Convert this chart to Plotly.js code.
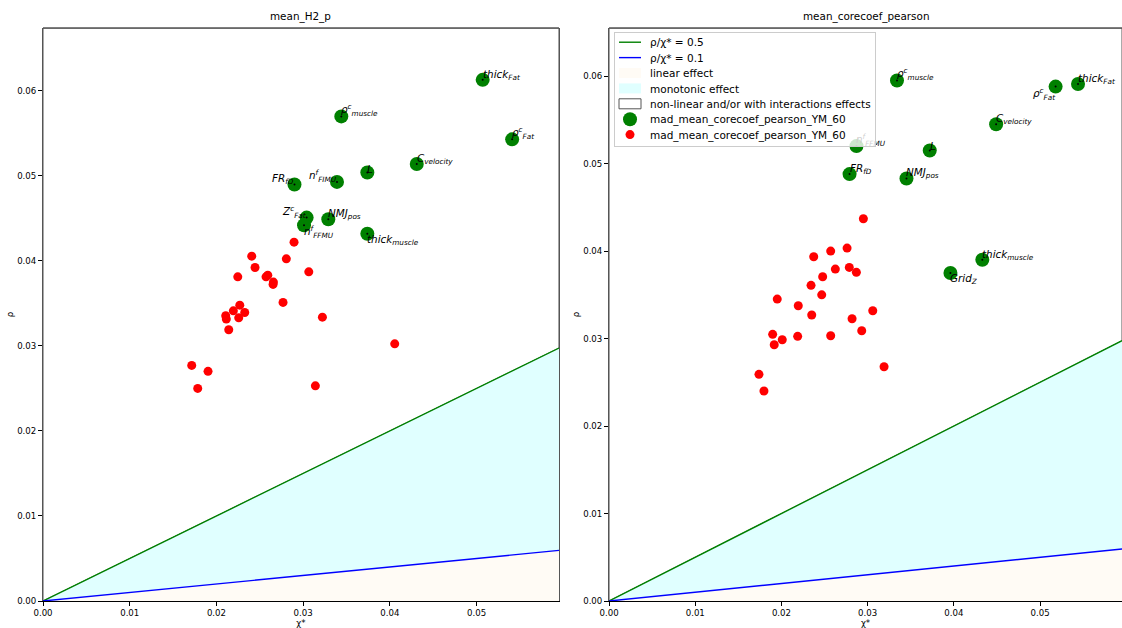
<!DOCTYPE html>
<html>
<head>
<meta charset="utf-8">
<script src="https://cdn.plot.ly/plotly-3.0.1.min.js"></script>
<style>html,body{margin:0;padding:0;background:#fff;}#chart{width:1122px;height:628px;}</style>
</head>
<body>
<div id="chart"></div>
<script>
// ---------- data ----------
const ratios = [0.5, 0.1];            // rho / chi* reference lines
const xMax = 0.0595;
const yMaxLeft = 0.0674;
const yMaxRight = 0.0655;
const xTicks = [0, 0.01, 0.02, 0.03, 0.04, 0.05];
const yTicks = [0, 0.01, 0.02, 0.03, 0.04, 0.05, 0.06];

const leftTitle = "mean_H2_p";
const rightTitle = "mean_corecoef_pearson";
const seriesName = "mad_mean_corecoef_pearson_YM_60";

const leftGreenLabels = [
  "<i>thick</i><sub><i>Fat</i></sub>",
  "<i>ρ</i><sup><i>c</i></sup><sub><i>muscle</i></sub>",
  "<i>ρ</i><sup><i>c</i></sup><sub><i>Fat</i></sub>",
  "<i>C</i><sub><i>velocity</i></sub>",
  "<i>L</i>",
  "<i>n</i><sup><i>f</i></sup><sub><i>FIMU</i></sub>",
  "<i>FR</i><sub><i>fD</i></sub>",
  "<i>Z</i><sup><i>c</i></sup><sub><i>Fat</i></sub>",
  "<i>n</i><sup><i>f</i></sup><sub><i>FFMU</i></sub>",
  "<i>NMJ</i><sub><i>pos</i></sub>",
  "<i>thick</i><sub><i>muscle</i></sub>"
];
const leftGreenX = [0.0507, 0.0344, 0.0541, 0.0431, 0.0374, 0.0339, 0.0290, 0.0304, 0.0301, 0.0329, 0.0374];
const leftGreenY = [0.0613, 0.0570, 0.0543, 0.0514, 0.0504, 0.0493, 0.0490, 0.0451, 0.0442, 0.0449, 0.0432];

const leftRedX = [0.02895, 0.02407, 0.02806, 0.02445, 0.02246, 0.03065, 0.02572, 0.02592, 0.02657, 0.02653,
                  0.02768, 0.02269, 0.02195, 0.02326, 0.02107, 0.02114, 0.02257, 0.03222, 0.02142, 0.04056,
                  0.01715, 0.01903, 0.01784, 0.03141];
const leftRedY = [0.04221, 0.04056, 0.04025, 0.03923, 0.03813, 0.03872, 0.03813, 0.03833, 0.03751, 0.03724,
                  0.03512, 0.03480, 0.03413, 0.03394, 0.03355, 0.03316, 0.03331, 0.03339, 0.03190, 0.03025,
                  0.02771, 0.02701, 0.02501, 0.02531];

const rightGreenLabels = [
  "<i>ρ</i><sup><i>c</i></sup><sub><i>muscle</i></sub>",
  "<i>thick</i><sub><i>Fat</i></sub>",
  "<i>ρ</i><sup><i>c</i></sup><sub><i>Fat</i></sub>",
  "<i>C</i><sub><i>velocity</i></sub>",
  "<i>n</i><sup><i>f</i></sup><sub><i>FFMU</i></sub>",
  "<i>L</i>",
  "<i>FR</i><sub><i>fD</i></sub>",
  "<i>NMJ</i><sub><i>pos</i></sub>",
  "<i>thick</i><sub><i>muscle</i></sub>",
  "<i>Grid</i><sub><i>Z</i></sub>"
];
const rightGreenX = [0.0334, 0.0544, 0.0518, 0.0449, 0.0287, 0.0372, 0.0279, 0.0345, 0.0433, 0.0396];
const rightGreenY = [0.0595, 0.0591, 0.0588, 0.0545, 0.0520, 0.0515, 0.0488, 0.0483, 0.0390, 0.0375];

const rightRedX = [0.02950, 0.02761, 0.02571, 0.02374, 0.02625, 0.02787, 0.02869, 0.02478, 0.02343, 0.02467,
                   0.01951, 0.02195, 0.03059, 0.02351, 0.02819, 0.02931, 0.01898, 0.02188, 0.02571, 0.02009,
                   0.01916, 0.03190, 0.01739, 0.01797];
const rightRedY = [0.04369, 0.04034, 0.04000, 0.03935, 0.03794, 0.03813, 0.03757, 0.03706, 0.03608, 0.03500,
                   0.03451, 0.03375, 0.03318, 0.03269, 0.03226, 0.03089, 0.03048, 0.03025, 0.03032, 0.02986,
                   0.02929, 0.02678, 0.02591, 0.02400];

// ---------- label placement (style only) ----------
const leftLabelPos  = ['lb','lb','lb','lb','lb','rb','rb','rb','lt','lb','lt'];
const rightLabelPos = ['lb','lb','rt','lb','lb','lb','lb','lb','lb','lt'];

// ---------- build ----------
const FONT = "DejaVu Sans, Liberation Sans, sans-serif";
const traces = [];
const annotations = [];

function panel(xa, ya, yMax, gx, gy, glab, gpos, rx, ry, legend) {
  const r0 = ratios[0], r1 = ratios[1];
  traces.push({type:'scatter', mode:'lines', xaxis:xa, yaxis:ya,
    x:[0, xMax, xMax, 0, 0], y:[0, r0*xMax, yMax, yMax, 0],
    fill:'toself', fillcolor:'#ffffff', line:{color:'#555555', width:1},
    name:'non-linear and/or with interactions effects', showlegend:legend, legendrank:5, hoverinfo:'skip'});
  traces.push({type:'scatter', mode:'lines', xaxis:xa, yaxis:ya,
    x:[0, xMax, xMax, 0], y:[0, r0*xMax, r1*xMax, 0],
    fill:'toself', fillcolor:'#e0ffff', line:{width:0, color:'rgba(0,0,0,0)'},
    name:'monotonic effect', showlegend:legend, legendrank:4, hoverinfo:'skip'});
  traces.push({type:'scatter', mode:'lines', xaxis:xa, yaxis:ya,
    x:[0, xMax, xMax, 0], y:[0, r1*xMax, 0, 0],
    fill:'toself', fillcolor:'#fffbf5', line:{width:0, color:'rgba(0,0,0,0)'},
    name:'linear effect', showlegend:legend, legendrank:3, hoverinfo:'skip'});
  traces.push({type:'scatter', mode:'lines', xaxis:xa, yaxis:ya,
    x:[0, xMax], y:[0, r0*xMax], line:{color:'#008000', width:1.4},
    name:'ρ/χ* = ' + r0, showlegend:legend, legendrank:1});
  traces.push({type:'scatter', mode:'lines', xaxis:xa, yaxis:ya,
    x:[0, xMax], y:[0, r1*xMax], line:{color:'#0000ff', width:1.4},
    name:'ρ/χ* = ' + r1, showlegend:legend, legendrank:2});
  traces.push({type:'scatter', mode:'markers', xaxis:xa, yaxis:ya,
    x:rx, y:ry, marker:{color:'#ff0000', size:9},
    name:seriesName, showlegend:legend, legendrank:7});
  traces.push({type:'scatter', mode:'markers', xaxis:xa, yaxis:ya,
    x:gx, y:gy, marker:{color:'#008000', size:14},
    name:seriesName, showlegend:legend, legendrank:6});
  traces.push({type:'scatter', mode:'markers', xaxis:xa, yaxis:ya,
    x:gx, y:gy, marker:{color:'#000000', size:2},
    showlegend:false, hoverinfo:'skip'});
  const xr = xa === 'x' ? 'x' : 'x2';
  const yr = ya === 'y' ? 'y' : 'y2';
  gx.forEach((v, i) => {
    const p = gpos[i];
    annotations.push({x:v, y:gy[i], xref:xr, yref:yr, text:glab[i], showarrow:false,
      xanchor: p[0] === 'l' ? 'left' : 'right',
      yanchor: p[1] === 'b' ? 'bottom' : 'top',
      xshift: p[0] === 'l' ? -2 : 2,
      yshift: p[1] === 'b' ? -4 : 3,
      font:{family:FONT, size:10.4, color:'#000'}});
  });
}

panel('x', 'y', yMaxLeft, leftGreenX, leftGreenY, leftGreenLabels, leftLabelPos, leftRedX, leftRedY, false);
panel('x2', 'y2', yMaxRight, rightGreenX, rightGreenY, rightGreenLabels, rightLabelPos, rightRedX, rightRedY, true);

annotations.push({text:leftTitle, xref:'x domain', yref:'paper', x:0.5, y:1, yanchor:'bottom', yshift:3,
  showarrow:false, font:{family:FONT, size:10.4, color:'#000'}});
annotations.push({text:rightTitle, xref:'x2 domain', yref:'paper', x:0.5, y:1, yanchor:'bottom', yshift:3,
  showarrow:false, font:{family:FONT, size:10.4, color:'#000'}});

const xaxisBase = {range:[0, xMax], tickvals:xTicks, tickformat:'.2f', ticks:'outside', ticklen:3.5,
  tickcolor:'#000', tickwidth:1, showgrid:false, zeroline:false, showline:true, linecolor:'#000', linewidth:1.3,
  tickfont:{family:FONT, size:8.6, color:'#000'},
  title:{text:'χ*', font:{family:FONT, size:8.6, color:'#000'}, standoff:2}};
const yaxisBase = {tickvals:yTicks, tickformat:'.2f', ticks:'outside', ticklen:3.5,
  tickcolor:'#000', tickwidth:1, showgrid:false, zeroline:false, showline:true, mirror:true,
  linecolor:'#555', linewidth:1.5,
  tickfont:{family:FONT, size:8.6, color:'#000'},
  title:{text:'ρ', font:{family:FONT, size:8.6, color:'#000'}, standoff:2}};

const layout = {
  width:1122, height:628,
  margin:{l:43, r:0, t:28, b:27},
  paper_bgcolor:'#fff', plot_bgcolor:'#fff',
  font:{family:FONT, color:'#000'},
  xaxis: Object.assign({}, xaxisBase, {domain:[0, 0.4782], anchor:'y'}),
  yaxis: Object.assign({}, yaxisBase, {range:[0, yMaxLeft], anchor:'x'}),
  xaxis2: Object.assign({}, xaxisBase, {domain:[0.5246, 1], anchor:'y2'}),
  yaxis2: Object.assign({}, yaxisBase, {range:[0, yMaxRight], anchor:'x2'}),
  shapes:[
    {type:'line', xref:'x domain', yref:'y domain', x0:0, x1:1, y0:1, y1:1, line:{color:'#555', width:1.5}},
    {type:'line', xref:'x2 domain', yref:'y2 domain', x0:0, x1:1, y0:1, y1:1, line:{color:'#555', width:1.5}}
  ],
  annotations: annotations,
  showlegend:true,
  legend:{x:0.5292, y:0.993, xanchor:'left', yanchor:'top', bgcolor:'rgba(255,255,255,0.8)',
    bordercolor:'#cccccc', borderwidth:1, font:{family:FONT, size:10.5, color:'#000'},
    traceorder:'normal', tracegroupgap:0}
};

// Compact the legend rows (matplotlib-like spacing) after drawing
function compactLegend(gd) {
  const leg = gd.querySelector('g.legend');
  if (!leg) return;
  const items = Array.from(leg.querySelectorAll('g.traces'));
  const parse = el => {
    const t = el.getAttribute('transform') || '';
    const m = t.match(/translate\(\s*([-\d.eE]+)[ ,]+([-\d.eE]+)\s*\)/);
    return m ? [parseFloat(m[1]), parseFloat(m[2])] : [0, 0];
  };
  if (items.length < 2) return;
  const pos = items.map(parse);
  const newStep = 15.4;
  const firstY = pos[0][1] - 5.3;
  items.forEach((el, i) => {
    el.setAttribute('transform', 'translate(' + pos[i][0] + ',' + (firstY + i * newStep) + ')');
    el.querySelectorAll('.legendfill path').forEach(p => {
      p.setAttribute('d', 'M4,-5h22v10h-22z');
    });
    el.querySelectorAll('.legendlines path').forEach(p => {
      p.setAttribute('d', 'M4,0h22');
    });
    el.querySelectorAll('.legendpoints path').forEach(p => {
      p.setAttribute('transform', 'translate(15,0)');
    });
    const txt = el.querySelector('text.legendtext');
    if (txt) txt.setAttribute('transform', 'translate(-5,0)');
    if (txt && txt.textContent.indexOf('non-linear') === 0) {
      el.querySelectorAll('.legendfill path').forEach(p => {
        p.style.stroke = '#555'; p.style.strokeWidth = '1px';
      });
      el.querySelectorAll('.legendlines path').forEach(p => { p.style.display = 'none'; });
    }
  });
  const bg = leg.querySelector('rect.bg');
  if (bg) {
    bg.setAttribute('height', 114);
    const w = parseFloat(bg.getAttribute('width'));
    bg.setAttribute('width', w - 6);
  }
  leg.parentNode.appendChild(leg);
}

Plotly.newPlot('chart', traces, layout, {displayModeBar:false, staticPlot:true}).then(gd => compactLegend(gd));
</script>
</body>
</html>
